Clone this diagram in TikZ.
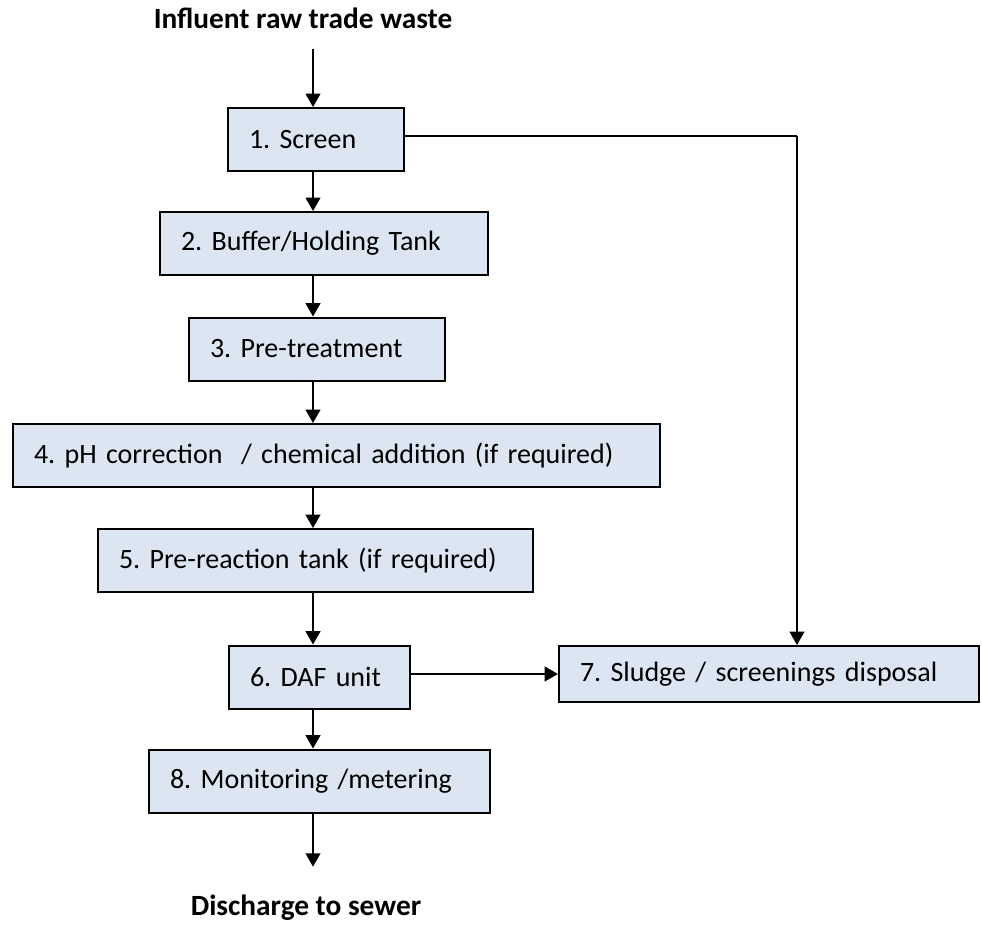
\documentclass[tikz,border=0pt]{standalone}
\usepackage{fontspec}
\setmainfont{Carlito}
\usetikzlibrary{arrows.meta,calc,positioning}
\definecolor{PlantInk}{HTML}{000000}
\definecolor{PlantFill}{HTML}{DCE6F2}
\newlength\unitpx
\setlength\unitpx{0.75pt}
\frenchspacing
\tikzset{
  every node/.style={text=PlantInk},
  stage/.style={draw=PlantInk, line width=1.5pt, fill=PlantFill, anchor=west,
    align=left, inner xsep=21\unitpx, inner ysep=0pt, minimum height=63\unitpx,
    font=\fontsize{21}{25}\selectfont},
  endpoint/.style={font=\fontsize{22}{26}\selectfont\bfseries, anchor=base},
  flow/.style={-{Triangle[length=10pt,width=11pt]}, draw=PlantInk, line width=1.5pt},
  tap/.style={draw=PlantInk, line width=1.1pt},
}

\begin{document}
\begin{tikzpicture}[x=\unitpx,y=-\unitpx]
  \useasboundingbox[fill=white] (0,0) rectangle (982,925);
  \coordinate (spine) at (313,0);
  \coordinate (drop) at (797,136);
  % inlet and outlet labels
  \node[endpoint] (influent) at (303,28) {Influent raw trade waste};
  \node[endpoint] (discharge) at (306,915) {Discharge to sewer};
  % treatment train
  \node[stage, text width=134\unitpx] (screen) at (227,139.5) {1. Screen};
  \node[stage, text width=286\unitpx] (buffer) at (159,243.5) {2. Buffer/Holding Tank};
  \node[stage, text width=214\unitpx] (pretreat) at (188,349) {3. Pre-treatment};
  \node[stage, text width=605\unitpx] (phfix) at (12,455.5) {4. pH correction \ / chemical addition (if required)};
  \node[stage, text width=393\unitpx] (prereact) at (97,560.5) {5. Pre-reaction tank (if required)};
  \node[stage, text width=139\unitpx] (daf) at (228,677) {6. DAF unit};
  \node[stage, text width=378\unitpx, minimum height=56\unitpx] (sludge) at (558,674) {7. Sludge / screenings disposal};
  \node[stage, text width=299\unitpx] (meter) at (148,781) {8. Monitoring /metering};
  % main flow down the spine
  \draw[flow, shorten <=16\unitpx] (influent.south -| spine) -- (screen.north -| spine);
  \draw[flow] (screen.south -| spine) -- (buffer.north -| spine);
  \draw[flow] (buffer.south -| spine) -- (pretreat.north -| spine);
  \draw[flow] (pretreat.south -| spine) -- (phfix.north -| spine);
  \draw[flow] (phfix.south -| spine) -- (prereact.north -| spine);
  \draw[flow] (prereact.south -| spine) -- (daf.north -| spine);
  \draw[flow] (daf.south -| spine) -- (meter.north -| spine);
  \draw[flow, shorten >=23\unitpx] (meter.south -| spine) -- (discharge.north -| spine);
  % screenings and sludge to disposal
  \draw[tap] (screen.east |- drop) -- (drop);
  \draw[flow] (drop) -- (drop |- sludge.north);
  \draw[flow] (daf.east |- sludge.west) -- (sludge.west);
\end{tikzpicture}
\end{document}
